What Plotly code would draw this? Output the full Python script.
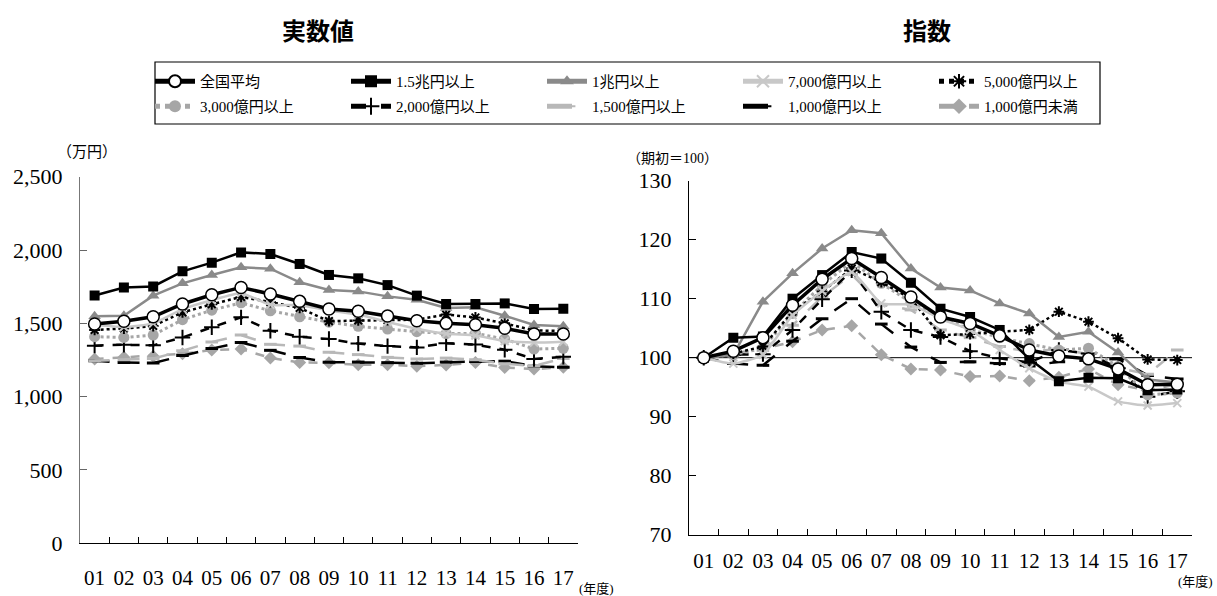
import plotly.graph_objects as go

years = ["01","02","03","04","05","06","07","08","09","10","11","12","13","14","15","16","17"]

names = ["全国平均","1.5兆円以上","1兆円以上","7,000億円以上","5,000億円以上",
         "3,000億円以上","2,000億円以上","1,500億円以上","1,000億円以上","1,000億円未満"]

# 実数値 (万円)
v_avg   = [1495,1514,1545,1632,1695,1745,1700,1650,1598,1582,1550,1518,1500,1491,1466,1427,1427]
v_15t   = [1690,1745,1752,1855,1914,1984,1973,1905,1830,1807,1761,1689,1632,1632,1636,1598,1600]
v_1t    = [1548,1552,1689,1773,1830,1882,1873,1780,1727,1718,1684,1661,1605,1609,1552,1489,1480]
v_7000  = [1490,1475,1500,1597,1658,1706,1627,1624,1588,1560,1509,1463,1429,1417,1380,1369,1375]
v_5000  = [1455,1465,1482,1575,1630,1680,1645,1605,1515,1520,1522,1525,1560,1540,1500,1452,1448]
v_3000  = [1409,1404,1420,1525,1590,1640,1586,1545,1508,1480,1461,1443,1430,1432,1393,1325,1330]
v_2000  = [1348,1354,1350,1404,1473,1541,1450,1409,1393,1362,1345,1336,1364,1355,1320,1257,1272]
v_1500  = [1245,1252,1260,1313,1373,1420,1357,1345,1303,1287,1268,1257,1263,1252,1224,1210,1261]
v_1000  = [1245,1233,1229,1280,1328,1370,1316,1267,1235,1236,1232,1228,1236,1240,1242,1208,1200]
v_u1000 = [1257,1268,1276,1292,1318,1325,1264,1233,1231,1217,1218,1208,1216,1233,1199,1188,1200]

# 指数 (期初=100)
i_avg   = [100,101.1,103.4,108.9,113.3,116.8,113.6,110.3,106.9,105.8,103.7,101.3,100.3,99.8,98.1,95.4,95.5]
i_15t   = [100,103.4,103.6,110.0,114.0,117.9,116.8,112.7,108.3,106.9,104.7,99.8,96.0,96.6,96.5,94.5,94.6]
i_1t    = [100,100.5,109.5,114.3,118.5,121.6,121.1,115.1,111.9,111.4,109.2,107.5,103.5,104.4,100.9,96.3,95.8]
i_7000  = [100,99.0,100.5,107.2,111.3,114.5,109.2,109.0,106.6,104.7,101.3,98.2,95.9,95.1,92.6,91.9,92.3]
i_5000  = [100,100.7,101.9,107.8,111.2,115.1,112.8,110.0,103.8,104.0,104.4,104.7,107.8,106.1,103.3,99.7,99.6]
i_3000  = [100,100.5,101.6,107.5,112.3,116.3,112.6,109.4,106.8,104.8,103.4,102.4,101.3,101.6,98.5,93.7,94.0]
i_2000  = [100,100.5,100.6,104.7,109.9,114.8,107.8,104.7,103.5,101.1,99.9,99.2,101.3,100.7,98.2,93.4,94.3]
i_1500  = [100,100.5,101.2,105.5,110.3,114.1,109.0,108.1,104.7,103.4,101.9,101.0,101.5,100.6,98.3,97.2,101.3]
i_1000  = [100,99.0,98.7,102.8,106.6,110.0,105.7,101.8,99.2,99.3,99.0,98.6,99.3,99.6,99.8,97.0,96.4]
i_u1000 = [100,100.8,101.5,102.7,104.7,105.4,100.5,98.1,97.9,96.8,96.9,96.1,96.7,98.1,95.4,94.5,95.5]

values = [v_avg, v_15t, v_1t, v_7000, v_5000, v_3000, v_2000, v_1500, v_1000, v_u1000]
indices = [i_avg, i_15t, i_1t, i_7000, i_5000, i_3000, i_2000, i_1500, i_1000, i_u1000]

styles = [
    dict(line=dict(color="black", width=3.5), marker=dict(symbol="circle", size=12, color="white", line=dict(color="black", width=1.5))),
    dict(line=dict(color="black", width=2.5), marker=dict(symbol="square", size=10, color="black")),
    dict(line=dict(color="#8a8a8a", width=2.5), marker=dict(symbol="triangle-up", size=11, color="#8a8a8a")),
    dict(line=dict(color="#c8c8c8", width=2.5, shape="spline", smoothing=0.5), marker=dict(symbol="x-thin", size=8, color="#c8c8c8", line=dict(color="#c8c8c8", width=2))),
    dict(line=dict(color="black", width=2.5, dash="dot"), marker=dict(symbol="asterisk", size=9, color="black", line=dict(color="black", width=2))),
    dict(line=dict(color="#a6a6a6", width=3, dash="dot"), marker=dict(symbol="circle", size=11, color="#a6a6a6")),
    dict(line=dict(color="black", width=2.5, dash="dash"), marker=dict(symbol="cross-thin", size=11, color="black", line=dict(color="black", width=2))),
    dict(line=dict(color="#b8b8b8", width=2.5, dash="longdash"), marker=dict(symbol="line-ew", size=9, color="#b8b8b8", line=dict(color="#b8b8b8", width=3))),
    dict(line=dict(color="black", width=2.5, dash="longdash"), marker=dict(symbol="line-ew", size=9, color="black", line=dict(color="black", width=3))),
    dict(line=dict(color="#a6a6a6", width=2.5, dash="dash"), marker=dict(symbol="diamond", size=10, color="#a6a6a6")),
]

fig = go.Figure()
order = list(range(len(names)))[::-1]  # draw 全国平均 last (on top)
for k in order:
    st = styles[k]
    fig.add_trace(go.Scatter(x=years, y=values[k], name=names[k], mode="lines+markers",
                             line=st["line"], marker=st["marker"], legendrank=k + 1,
                             legend="legend" if k < 5 else "legend2",
                             xaxis="x", yaxis="y", showlegend=True))
for k in order:
    st = styles[k]
    fig.add_trace(go.Scatter(x=years, y=indices[k], name=names[k], mode="lines+markers",
                             line=st["line"], marker=st["marker"], legendrank=k + 1,
                             xaxis="x2", yaxis="y2", showlegend=False))

font_fam = "Liberation Serif, Noto Sans CJK JP, serif"
xtickfont = dict(family=font_fam, size=21, color="black")
ytickfont = dict(family=font_fam, size=22, color="black")

xcommon = dict(type="category", tickson="boundaries", ticks="inside", ticklen=6,
               tickcolor="black", showline=True, linecolor="black", linewidth=1.2,
               showgrid=False, zeroline=False, range=[-0.5, 16.5], automargin=False,
               tickangle=0, tickfont=xtickfont)

def ann(text, x, y, size, fam=font_fam):
    return dict(text=text, x=x/1217, y=1-y/596, xref="paper", yref="paper",
                xanchor="center", yanchor="middle", showarrow=False,
                font=dict(family=fam, size=size, color="black"))

legend_common = dict(orientation="h", xanchor="left", yanchor="top",
                     entrywidth=141, itemwidth=40, borderwidth=0,
                     bgcolor="rgba(0,0,0,0)",
                     font=dict(family=font_fam, size=15, color="black"),
                     tracegroupgap=0, itemsizing="constant")

fig.update_layout(
    template="none",
    width=1217, height=596,
    margin=dict(l=0, r=0, t=0, b=0, pad=0),
    paper_bgcolor="white", plot_bgcolor="white",
    font=dict(family=font_fam, color="black"),
    xaxis=dict(domain=[0.0657, 0.4749], anchor="y", ticklabelstandoff=15, **xcommon),
    yaxis=dict(domain=[0.0884, 0.7035], anchor="x", range=[0, 2500], dtick=500,
               tickformat=",", ticks="inside", ticklen=7, tickcolor="#666",
               showline=True, linecolor="#777", linewidth=1.2, showgrid=False,
               zeroline=False, automargin=False, ticklabelstandoff=12, tickfont=ytickfont),
    xaxis2=dict(domain=[0.5661, 0.9795], anchor="y2", ticklabelstandoff=7, **xcommon),
    yaxis2=dict(domain=[0.1029, 0.6968], anchor="x2", range=[70, 130], dtick=10,
                ticks="inside", ticklen=7, tickcolor="black",
                showline=True, linecolor="black", linewidth=1.2, showgrid=False,
                zeroline=False, automargin=False, ticklabelstandoff=12, tickfont=ytickfont),
    legend=dict(x=150/1217, y=1-65/596, **legend_common),
    legend2=dict(x=150/1217, y=1-90/596, **legend_common),
    shapes=[
        dict(type="line", xref="x2", yref="y2", x0=-0.5, x1=16.5, y0=100, y1=100,
             line=dict(color="black", width=1), layer="below"),
        dict(type="rect", xref="paper", yref="paper", x0=155/1217, x1=1100/1217,
             y0=1-124/596, y1=1-62/596, line=dict(color="black", width=1.2),
             fillcolor="rgba(0,0,0,0)", layer="below"),
    ],
    annotations=[
        ann("<b>実数値</b>", 318, 30, 24, "Noto Sans CJK JP"),
        ann("<b>指数</b>", 927, 30, 24, "Noto Sans CJK JP"),
        ann("（万円）", 87, 152, 15),
        ann("（期初＝100）", 672, 158, 14),
        ann("(年度)", 596, 588, 13),
        ann("(年度)", 1195, 581, 13),
    ],
)

fig.write_html("out.html")
